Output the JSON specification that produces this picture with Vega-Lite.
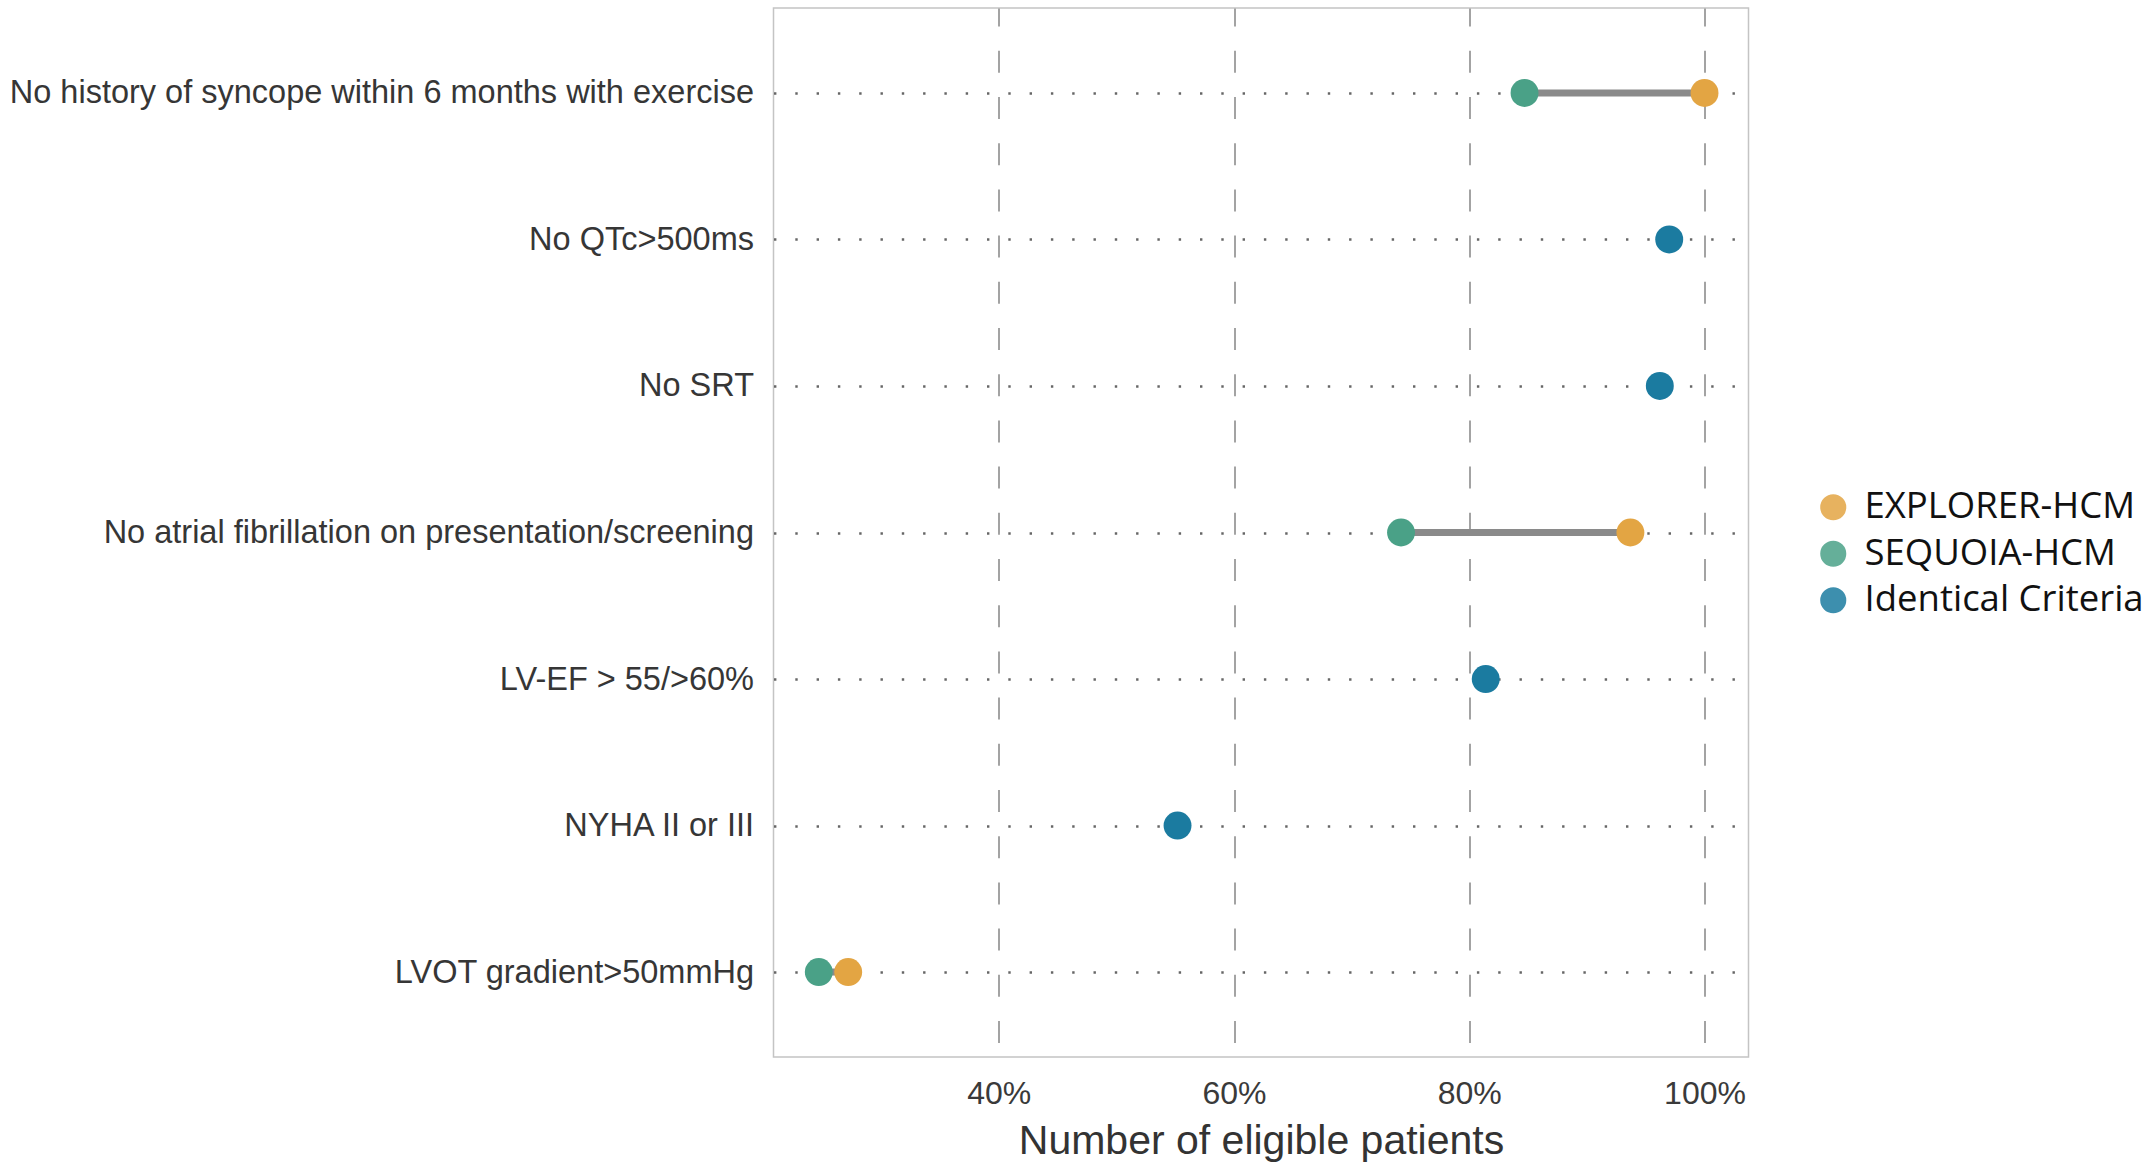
{
  "$schema": "https://vega.github.io/schema/vega-lite/v6.json",
  "autosize": {"type": "none"},
  "width": 975,
  "height": 1049,
  "padding": {"left": 773.5, "top": 8, "right": 394.5, "bottom": 111},
  "background": "white",
  "config": {
    "view": {"stroke": "#c4c4c4", "strokeWidth": 1.5},
    "font": "Liberation Sans"
  },
  "data": {
    "values": [
      {"criterion": "No history of syncope within 6 months with exercise", "study": "SEQUOIA-HCM", "value": 84.7},
      {"criterion": "No history of syncope within 6 months with exercise", "study": "EXPLORER-HCM", "value": 100},
      {"criterion": "No QTc>500ms", "study": "Identical Criteria", "value": 97.0},
      {"criterion": "No SRT", "study": "Identical Criteria", "value": 96.2},
      {"criterion": "No atrial fibrillation on presentation/screening", "study": "SEQUOIA-HCM", "value": 74.2},
      {"criterion": "No atrial fibrillation on presentation/screening", "study": "EXPLORER-HCM", "value": 93.7},
      {"criterion": "LV-EF > 55/>60%", "study": "Identical Criteria", "value": 81.4},
      {"criterion": "NYHA II or III", "study": "Identical Criteria", "value": 55.2},
      {"criterion": "LVOT gradient>50mmHg", "study": "SEQUOIA-HCM", "value": 24.7},
      {"criterion": "LVOT gradient>50mmHg", "study": "EXPLORER-HCM", "value": 27.2}
    ]
  },
  "encoding": {
    "y": {
      "field": "criterion",
      "type": "nominal",
      "sort": [
        "No history of syncope within 6 months with exercise",
        "No QTc>500ms",
        "No SRT",
        "No atrial fibrillation on presentation/screening",
        "LV-EF > 55/>60%",
        "NYHA II or III",
        "LVOT gradient>50mmHg"
      ],
      "scale": {"type": "point", "padding": 0.58},
      "axis": {
        "title": null,
        "domain": false,
        "ticks": false,
        "tickSize": 0,
        "labelPadding": 20,
        "labelFontSize": 32.5,
        "labelColor": "#363636",
        "labelFont": "Liberation Sans",
        "labelLimit": 900,
        "grid": true,
        "gridColor": "#555555",
        "gridWidth": 2.4,
        "gridDash": [2.4, 18.9],
        "gridOpacity": 0.9
      }
    }
  },
  "layer": [
    {
      "mark": {"type": "rule", "strokeWidth": 7, "color": "#8a8a8a"},
      "encoding": {
        "x": {
          "aggregate": "min",
          "field": "value",
          "type": "quantitative",
          "scale": {"domain": [20.85, 103.74], "nice": false, "zero": false},
          "axis": {
            "title": "Number of eligible patients",
            "titleFontSize": 41,
            "titleFont": "Liberation Sans",
            "titleFontWeight": "normal",
            "titleColor": "#333333",
            "titlePadding": 12,
            "values": [40, 60, 80, 100],
            "labelExpr": "datum.value + '%'",
            "labelFontSize": 32,
            "labelFont": "Liberation Sans",
            "labelColor": "#3a3a3a",
            "labelPadding": 21,
            "domain": false,
            "ticks": false,
            "tickSize": 0,
            "grid": true,
            "gridColor": "#9a9a9a",
            "gridWidth": 1.8,
            "gridDash": [22, 24.2],
            "gridDashOffset": 31.7
          }
        },
        "x2": {"aggregate": "max", "field": "value"}
      }
    },
    {
      "mark": {"type": "circle", "size": 780, "opacity": 1},
      "encoding": {
        "x": {"field": "value", "type": "quantitative"},
        "color": {
          "field": "study",
          "type": "nominal",
          "scale": {
            "domain": ["EXPLORER-HCM", "SEQUOIA-HCM", "Identical Criteria"],
            "range": ["#E3A543", "#4AA187", "#1B7BA0"]
          },
          "legend": {
            "title": null,
            "orient": "none",
            "legendX": 1041.5,
            "legendY": 481,
            "padding": 0,
            "symbolType": "circle",
            "symbolSize": 680,
            "symbolOpacity": 0.85,
            "labelFont": "Open Sans",
            "labelFontSize": 36.5,
            "labelColor": "#111111",
            "labelOffset": 13,
            "rowPadding": 9.5,
            "labelLimit": 400
          }
        }
      }
    }
  ]
}
